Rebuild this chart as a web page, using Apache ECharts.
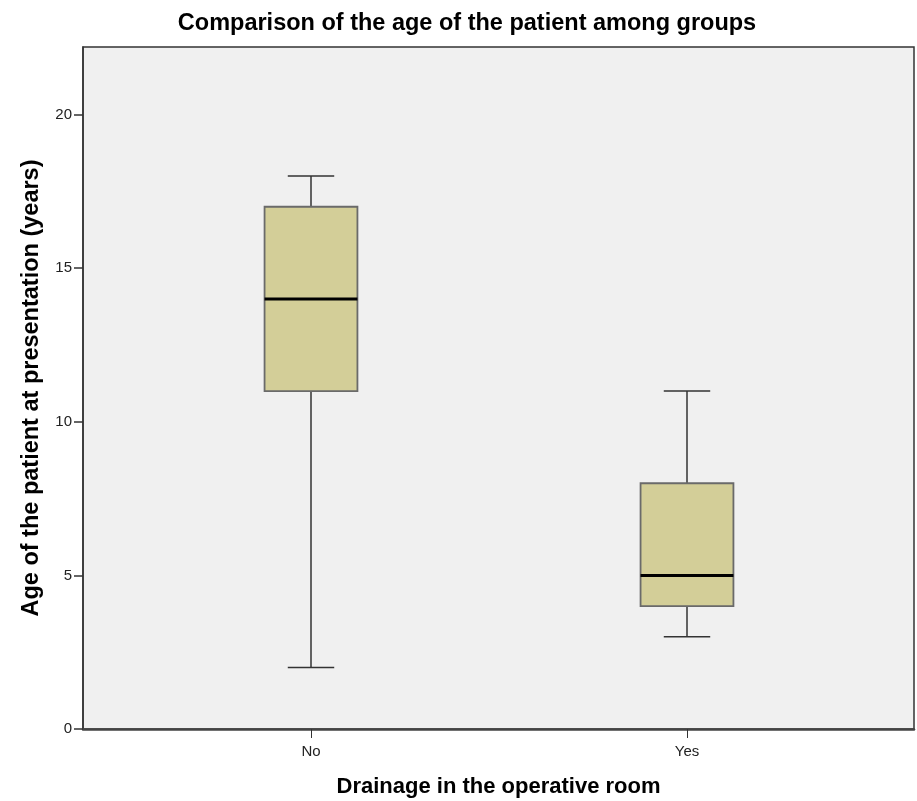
<!DOCTYPE html>
<html>
<head>
<meta charset="utf-8">
<script src="https://cdn.jsdelivr.net/npm/echarts@6/dist/echarts.min.js"></script>
<style>html,body{margin:0;padding:0;background:#fff;}#c{width:917px;height:801px;}</style>
</head>
<body>
<div id="c"></div>
<script>
const categories = ['No', 'Yes'];
// [min, Q1, median, Q3, max]
const boxNo = [2, 11, 14, 17, 18];
const boxYes = [3, 4, 5, 8, 11];
const yTicks = [0, 5, 10, 15, 20];
const yMax = 22.2;

const boxes = [boxNo, boxYes];
const boxData = boxes.map((b, i) => [i].concat(b));
const boxFrac = 0.247;
const font = 'Liberation Sans, Arial, sans-serif';

const chart = echarts.init(document.getElementById('c'));
chart.setOption({
  animation: false,
  backgroundColor: '#ffffff',
  title: {
    text: 'Comparison of the age of the patient among groups',
    left: 462, textAlign: 'center', top: 7,
    textStyle: { fontFamily: font, fontSize: 23.5, fontWeight: 'bold', color: '#000' }
  },
  grid: [
    { left: 123, top: 47, width: 752, height: 682, show: false, containLabel: false, outerBoundsMode: 'none' },
    { left: 83, top: 47, width: 831, height: 682, show: true, backgroundColor: '#f0f0f0', borderColor: '#333', borderWidth: 1.5, containLabel: false, outerBoundsMode: 'none' }
  ],
  xAxis: [
    {
      type: 'category', gridIndex: 0, data: categories, boundaryGap: true,
      axisLine: { show: false },
      axisTick: { show: true, alignWithLabel: true, length: 9, lineStyle: { color: '#333' } },
      axisLabel: { margin: 15, fontFamily: font, fontSize: 15, color: '#222' },
      splitLine: { show: false }
    },
    {
      type: 'value', gridIndex: 1, min: 0, max: 1,
      axisLine: { show: true, onZero: false, lineStyle: { color: '#444', width: 2.5 } },
      axisTick: { show: false }, axisLabel: { show: false }, splitLine: { show: false },
      name: 'Drainage in the operative room', nameLocation: 'middle', nameGap: 47,
      nameTextStyle: { fontFamily: font, fontSize: 22, fontWeight: 'bold', color: '#000' }
    }
  ],
  yAxis: [
    { type: 'value', gridIndex: 0, min: 0, max: yMax, show: false },
    {
      type: 'value', gridIndex: 1, min: 0, max: yMax,
      axisLine: { show: true, lineStyle: { color: '#333', width: 1.5 } },
      axisTick: { show: true, length: 9, customValues: yTicks, lineStyle: { color: '#333', width: 1.5 } },
      axisLabel: { customValues: yTicks, margin: 11, fontFamily: font, fontSize: 15, color: '#222' },
      splitLine: { show: false },
      name: 'Age of the patient at presentation (years)', nameLocation: 'middle', nameGap: 39, nameRotate: 90,
      nameTextStyle: { fontFamily: font, fontSize: 23.5, fontWeight: 'bold', color: '#000' }
    }
  ],
  series: [
    {
      type: 'custom', xAxisIndex: 0, yAxisIndex: 0,
      data: boxData,
      renderItem: function (params, api) {
        const x = api.value(0);
        const pMin = api.coord([x, api.value(1)]);
        const pQ1 = api.coord([x, api.value(2)]);
        const pMed = api.coord([x, api.value(3)]);
        const pQ3 = api.coord([x, api.value(4)]);
        const pMax = api.coord([x, api.value(5)]);
        const w = api.size([1, 0])[0] * boxFrac;
        const cx = pMed[0];
        const whisk = { stroke: '#333', lineWidth: 1.5 };
        return {
          type: 'group',
          children: [
            { type: 'line', shape: { x1: cx, y1: pMax[1], x2: cx, y2: pQ3[1] }, style: whisk },
            { type: 'line', shape: { x1: cx, y1: pQ1[1], x2: cx, y2: pMin[1] }, style: whisk },
            { type: 'line', shape: { x1: cx - w / 4, y1: pMax[1], x2: cx + w / 4, y2: pMax[1] }, style: whisk },
            { type: 'line', shape: { x1: cx - w / 4, y1: pMin[1], x2: cx + w / 4, y2: pMin[1] }, style: whisk },
            { type: 'rect', shape: { x: cx - w / 2, y: pQ3[1], width: w, height: pQ1[1] - pQ3[1] },
              style: { fill: '#d3ce98', stroke: '#6a6a6a', lineWidth: 1.8 } },
            { type: 'line', shape: { x1: cx - w / 2, y1: pMed[1], x2: cx + w / 2, y2: pMed[1] },
              style: { stroke: '#000', lineWidth: 3 } }
          ]
        };
      }
    }
  ]
});
</script>
</body>
</html>
